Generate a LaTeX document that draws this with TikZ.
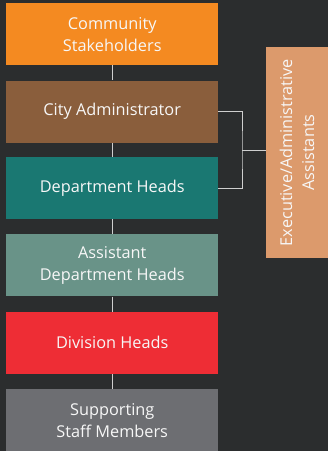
\documentclass[tikz,border=0pt]{standalone}
\usepackage{fontspec}
\setmainfont{Open Sans}
\usetikzlibrary{positioning}
\definecolor{bgdark}{HTML}{2B2D2E}
\definecolor{lineclr}{HTML}{CFCFCF}
\definecolor{commorange}{HTML}{F48A21}
\definecolor{adminbrown}{HTML}{8A5E3C}
\definecolor{deptteal}{HTML}{1A7872}
\definecolor{asstsage}{HTML}{699388}
\definecolor{divred}{HTML}{EE2D35}
\definecolor{staffgray}{HTML}{6D6E72}
\definecolor{helpertan}{HTML}{DC9A6C}
\begin{document}
\begin{tikzpicture}[x=1pt,y=-1pt]
      \tikzstyle{level} = [draw=none,text=white!97!black,minimum width=212pt,minimum height=62pt,
        inner sep=0pt,align=center,font=\fontsize{16.3}{22}\selectfont];
      \tikzstyle{link} = [draw=lineclr,line width=1pt];
      \useasboundingbox [fill=bgdark] (0,0) rectangle (328,451);
      % main chain
      \node [level,fill=commorange,anchor=north west] (comm) at (6,3) {Community\\Stakeholders};
      \node [level,fill=adminbrown,below=15pt of comm] (admin) {City Administrator};
      \node [level,fill=deptteal,below=14pt of admin] (dept) {Department Heads};
      \node [level,fill=asstsage,below=15pt of dept] (asst) {Assistant\\Department Heads};
      \node [level,fill=divred,below=15pt of asst] (div) {Division Heads};
      \node [level,fill=staffgray,below=15pt of div] (staff) {Supporting\\Staff Members};
      % side box
      \node [level,fill=helpertan,minimum width=211pt,minimum height=62pt,rotate=90]
        (help) at (297,152.5) {Executive/Administrative\\Assistants};
      \coordinate (fork) at (242,150);
      \draw [link] (comm) -- (admin);
      \draw [link] (admin) -- (dept);
      \draw [link] (dept) -- (asst);
      \draw [link] (asst) -- (div);
      \draw [link] (div) -- (staff);
      \draw [link] (admin.east) -| (fork) |- (dept.east);
      \draw [link] (fork) -- (fork -| help.north);
    \end{tikzpicture}
\end{document}
